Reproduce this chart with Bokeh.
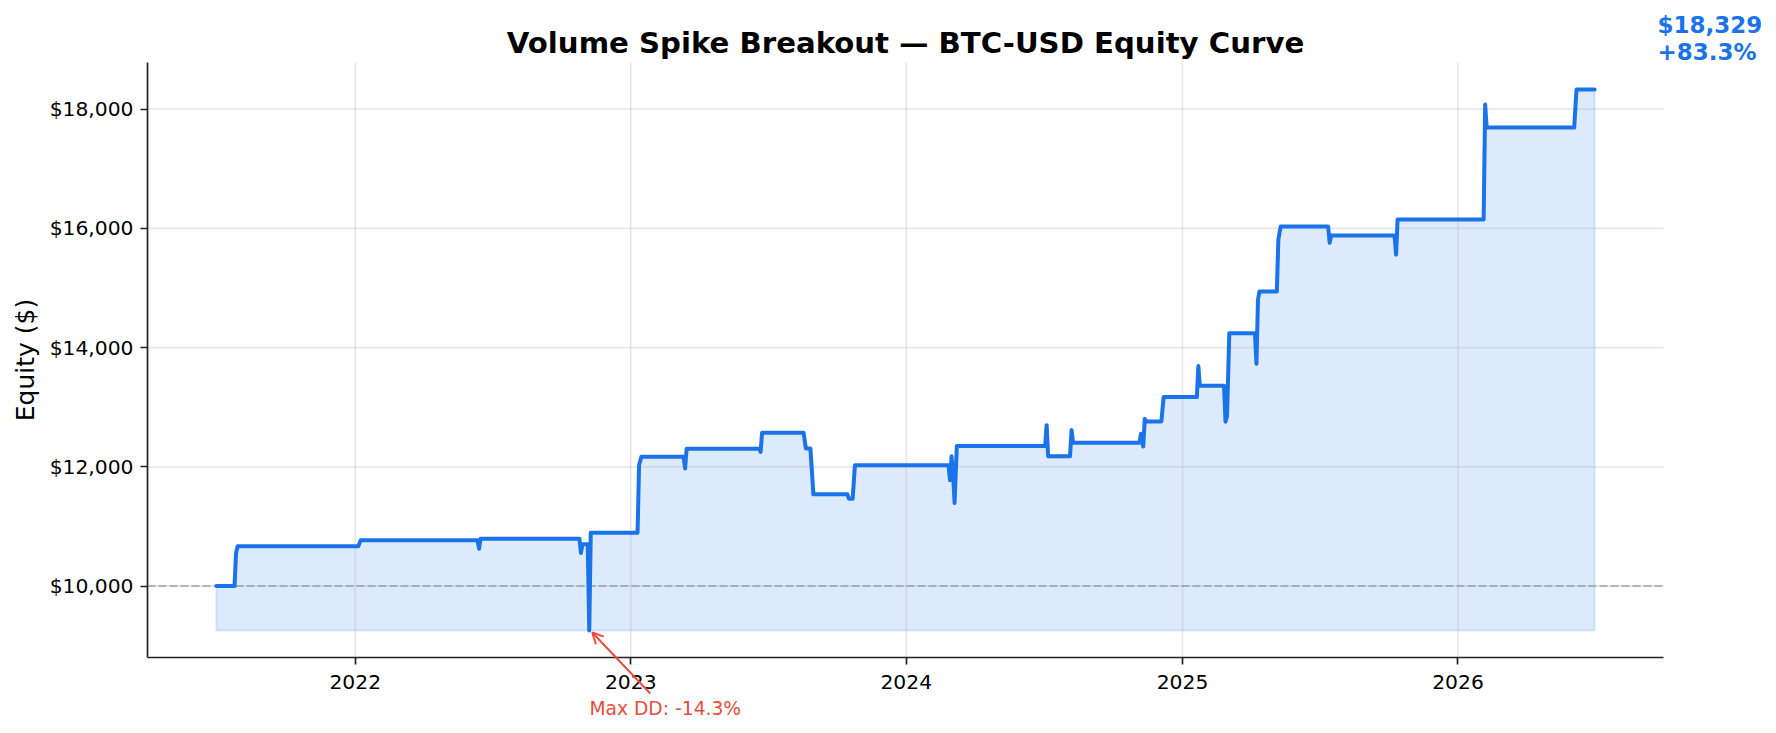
import numpy as np
import pandas as pd
from bokeh.plotting import figure
from bokeh.models import (Range1d, FixedTicker, NumeralTickFormatter, DatetimeTickFormatter,
                          DatetimeAxis, LinearAxis, Label, Arrow, OpenHead, ColumnDataSource)
from bokeh.embed import file_html
from bokeh.resources import INLINE

# ---------------- data ----------------
title_text = "Volume Spike Breakout \u2014 BTC-USD Equity Curve"
y_label_text = "Equity ($)"
initial_capital = 10000

dates = [
    "2021-07-01", "2021-07-25", "2021-07-27", "2021-07-29",
    "2022-01-05", "2022-01-08",
    "2022-06-12", "2022-06-14", "2022-06-16",
    "2022-10-25", "2022-10-27", "2022-10-29", "2022-11-05", "2022-11-07", "2022-11-09",
    "2023-01-10", "2023-01-12", "2023-01-15",
    "2023-03-12", "2023-03-14", "2023-03-16",
    "2023-06-20", "2023-06-22", "2023-06-24",
    "2023-08-18", "2023-08-21", "2023-08-27", "2023-08-31",
    "2023-10-15", "2023-10-17", "2023-10-22", "2023-10-25",
    "2024-02-26", "2024-02-28", "2024-03-01", "2024-03-03", "2024-03-05", "2024-03-08",
    "2024-07-03", "2024-07-05", "2024-07-07",
    "2024-08-05", "2024-08-07", "2024-08-09",
    "2024-11-05", "2024-11-07", "2024-11-10", "2024-11-12", "2024-11-14",
    "2024-12-04", "2024-12-07",
    "2025-01-20", "2025-01-22", "2025-01-24",
    "2025-02-25", "2025-02-27", "2025-03-01", "2025-03-04",
    "2025-04-07", "2025-04-09", "2025-04-11", "2025-04-13",
    "2025-05-06", "2025-05-08", "2025-05-11",
    "2025-07-13", "2025-07-15", "2025-07-17",
    "2025-10-09", "2025-10-11", "2025-10-13",
    "2026-02-04", "2026-02-06", "2026-02-08",
    "2026-06-04", "2026-06-07", "2026-07-01",
]
equity = [
    10000, 10000, 10550, 10667,
    10667, 10767,
    10767, 10627, 10796,
    10796, 10555, 10700, 10700, 9256, 10896,
    10896, 12028, 12168,
    12168, 11972, 12305,
    12305, 12250, 12572,
    12572, 12308, 12308, 11540,
    11540, 11467, 11467, 12028,
    12028, 11776, 12180, 11900, 11395, 12348,
    12348, 12700, 12180,
    12180, 12617, 12404,
    12404, 12555, 12340, 12805, 12762,
    12762, 13170,
    13170, 13690, 13360,
    13360, 12757, 12850, 14243,
    14243, 13730, 14803, 14943,
    14943, 15812, 16030,
    16030, 15757, 15880,
    15880, 15560, 16149,
    16149, 18080, 17691,
    17691, 18329, 18329,
]
y_ticks = [10000, 12000, 14000, 16000, 18000]
x_tick_years = [2022, 2023, 2024, 2025, 2026]

# ---------------- layout / style constants ----------------
W, H = 1776, 733
# axes box inside the canvas (pixels from the canvas edges)
AX_L, AX_R, AX_T, AX_B = 147, 1663, 62, 657
BLUE = "#1a73e8"
RED = "#e74c3c"
FONT = "DejaVu Sans"
TICK_FONT = "20.3px"
AXIS_COLOR = "#222222"

# ---------------- derived ----------------
dt = pd.to_datetime(dates)
ms = (dt.astype("int64") // 10**6).to_numpy().astype(float)
eq = np.array(equity, dtype=float)

# axes data limits (5% margins like the original)
x0, x1 = ms.min(), ms.max()
xpad = 0.05 * (x1 - x0)
ax_x0, ax_x1 = x0 - xpad, x1 + xpad
y0, y1 = eq.min(), eq.max()
ypad = 0.05 * (y1 - y0)
ax_y0, ax_y1 = y0 - ypad, y1 + ypad

# the plotting frame covers the whole canvas; extend ranges accordingly
ms_per_px = (ax_x1 - ax_x0) / (AX_R - AX_L)
val_per_px = (ax_y1 - ax_y0) / (AX_B - AX_T)
xr = Range1d(ax_x0 - AX_L * ms_per_px, ax_x1 + (W - AX_R) * ms_per_px)
yr = Range1d(ax_y0 - (H - AX_B) * val_per_px, ax_y1 + AX_T * val_per_px)

p = figure(width=W, height=H, x_range=xr, y_range=yr,
           x_axis_type=None, y_axis_type=None,
           output_backend="svg", toolbar_location=None,
           min_border=0, min_border_left=0, min_border_right=0,
           min_border_top=0, min_border_bottom=0)
p.title.visible = False
p.outline_line_color = None
p.background_fill_color = "white"
p.border_fill_color = "white"

x_ticks = [pd.Timestamp(f"{y}-01-01").value / 1e6 for y in x_tick_years]

# fill under the curve, down to its minimum (below the grid)
fill_x = np.concatenate([ms, ms[::-1]])
fill_y = np.concatenate([eq, np.full(len(eq), eq.min())])
p.patch(fill_x, fill_y, fill_color=BLUE, fill_alpha=0.15,
        line_color=BLUE, line_alpha=0.15, line_width=2, level="image")

# grid lines, limited to the axes box
grid_kw = dict(line_color="#b0b0b0", line_alpha=0.3, line_width=1.6, level="underlay")
p.segment(x0=x_ticks, x1=x_ticks, y0=[ax_y0] * len(x_ticks), y1=[ax_y1] * len(x_ticks), **grid_kw)
p.segment(x0=[ax_x0] * len(y_ticks), x1=[ax_x1] * len(y_ticks), y0=y_ticks, y1=y_ticks, **grid_kw)

# initial capital reference line
p.segment(x0=[ax_x0], x1=[ax_x1], y0=[initial_capital], y1=[initial_capital],
          line_color="gray", line_alpha=0.5, line_width=2, line_dash="8 3")

# equity line
src = ColumnDataSource(dict(date=ms, equity=eq))
p.line(x="date", y="equity", source=src, line_color=BLUE, line_width=4,
       line_join="round", line_cap="round")

# axes (spines) at the edges of the axes box
xaxis = DatetimeAxis(fixed_location=ax_y0, bounds=(ax_x0, ax_x1))
xaxis.ticker = FixedTicker(ticks=x_ticks)
xaxis.formatter = DatetimeTickFormatter(years="%Y", months="%Y", days="%Y", hours="%Y",
                                        minutes="%Y", seconds="%Y", milliseconds="%Y")
yaxis = LinearAxis(fixed_location=ax_x0, bounds=(ax_y0, ax_y1))
yaxis.ticker = FixedTicker(ticks=y_ticks)
yaxis.formatter = NumeralTickFormatter(format="$0,0")
for ax in (xaxis, yaxis):
    ax.axis_line_color = AXIS_COLOR
    ax.axis_line_width = 1.7
    ax.major_tick_line_color = AXIS_COLOR
    ax.major_tick_line_width = 1.7
    ax.major_tick_in = 0
    ax.major_tick_out = 7
    ax.minor_tick_line_color = None
    ax.major_label_text_font = FONT
    ax.major_label_text_font_size = TICK_FONT
    ax.major_label_text_color = "black"
yaxis.major_label_standoff = 7
xaxis.major_label_standoff = 10
p.add_layout(xaxis, "below")
p.add_layout(yaxis, "left")

# title and y-axis label
p.add_layout(Label(x=(AX_L + AX_R) / 2, y=H - 42, x_units="screen", y_units="screen",
                   text=title_text, text_font=FONT, text_font_size="29.2px",
                   text_font_style="bold", text_color="black",
                   text_align="center", text_baseline="alphabetic"))
p.add_layout(Label(x=25, y=H - (AX_T + AX_B) / 2, x_units="screen", y_units="screen",
                   angle=np.pi / 2, text=y_label_text, text_font=FONT,
                   text_font_size="25px", text_color="black",
                   text_align="center", text_baseline="middle"))

# max drawdown annotation
dd = (eq / np.maximum.accumulate(eq) - 1.0)
i_min = int(np.argmin(dd))
xm, ym = ms[i_min], eq[i_min]
p.add_layout(Arrow(end=OpenHead(size=11, line_color=RED, line_width=2),
                   x_start=xm + 61 * ms_per_px, y_start=ym - 63 * val_per_px,
                   x_end=xm + 3 * ms_per_px, y_end=ym - 2 * val_per_px,
                   line_color=RED, line_width=2))
p.add_layout(Label(x=xm, y=ym, x_offset=76, y_offset=-78,
                   text=f"Max DD: {dd.min() * 100:.1f}%", text_color=RED,
                   text_font=FONT, text_font_size="18.7px",
                   text_align="center", text_baseline="middle"))

# final value annotation
last = eq[-1]
ret = (last / initial_capital - 1) * 100
for txt, yo in ((f"${last:,.0f}", 65), (f"{ret:+.1f}%", 38)):
    p.add_layout(Label(x=ms[-1], y=last, x_offset=63, y_offset=yo, text=txt,
                       text_color=BLUE, text_font=FONT, text_font_size="23px",
                       text_font_style="bold", text_align="left",
                       text_baseline="alphabetic"))

open("out.html", "w").write(file_html(p, INLINE))
